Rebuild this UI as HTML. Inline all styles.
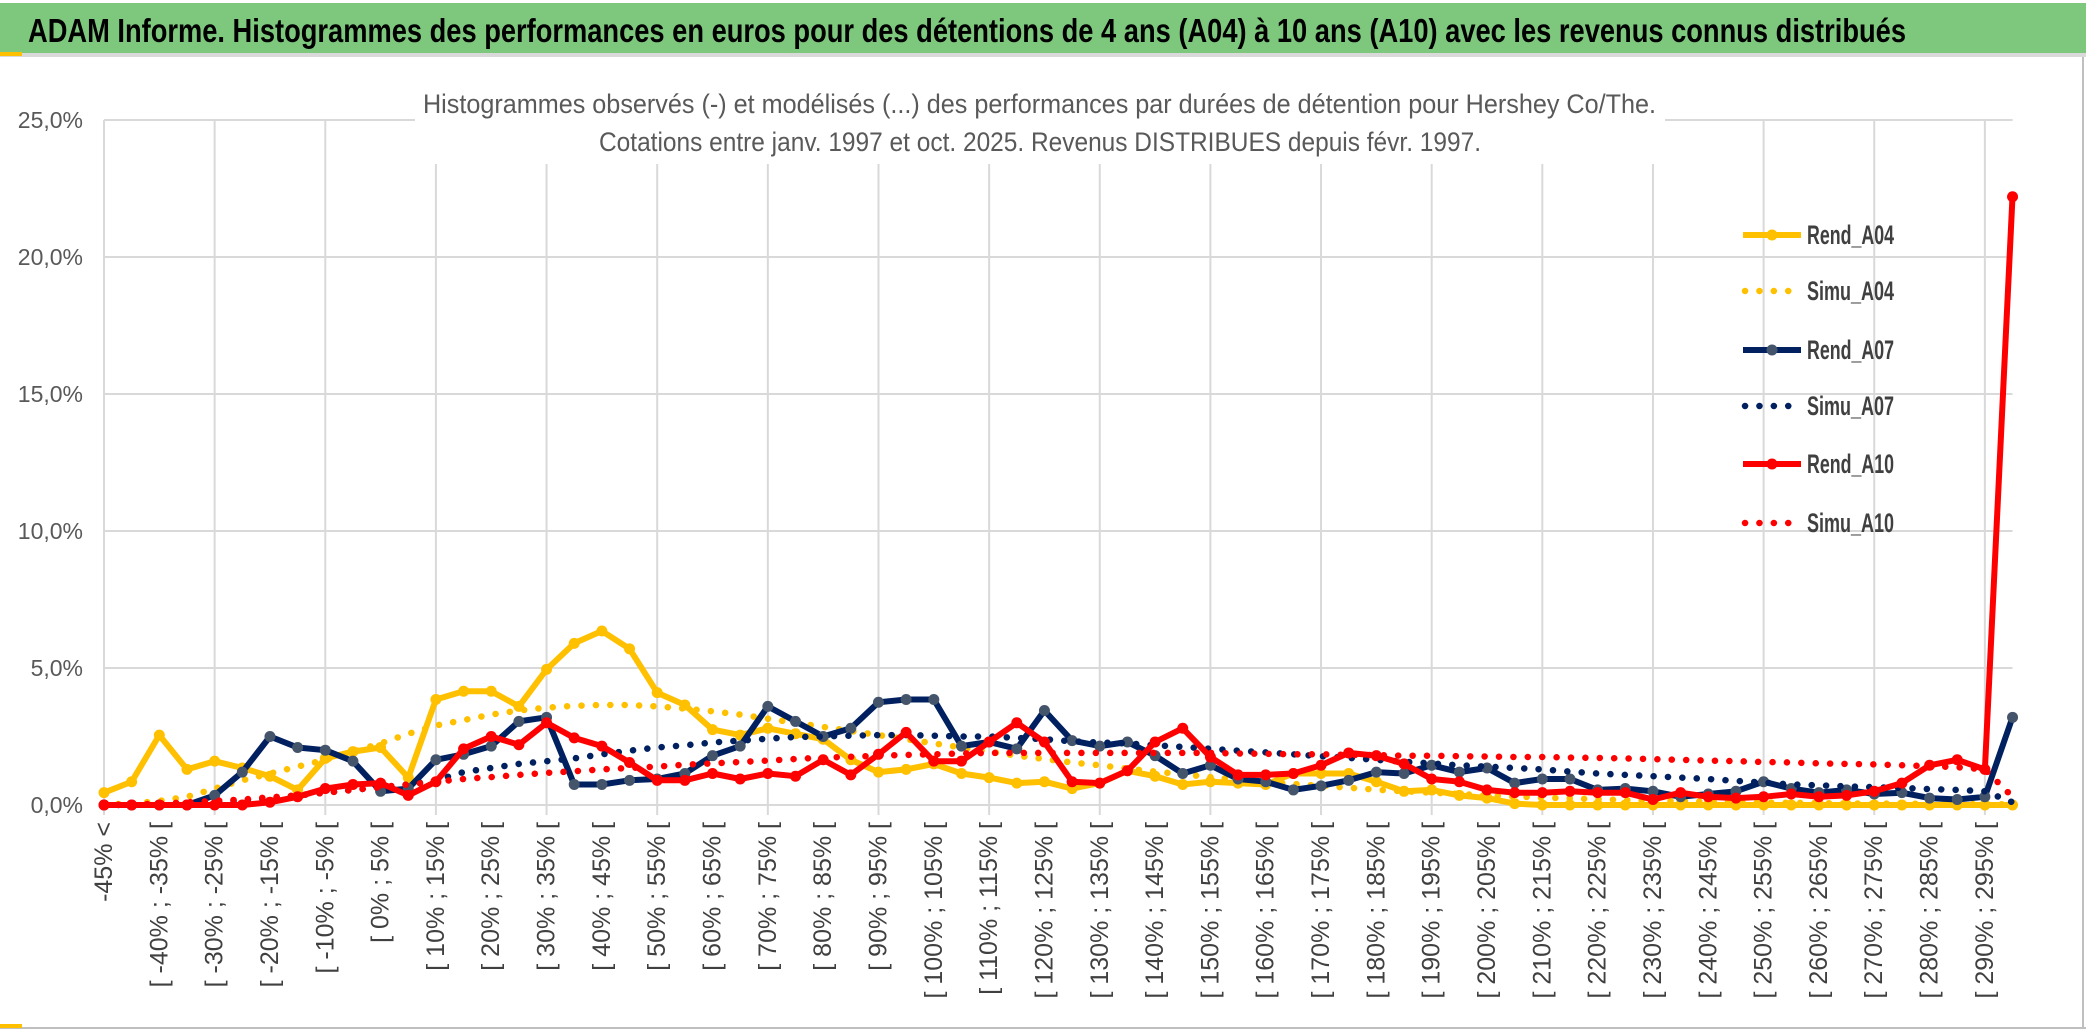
<!DOCTYPE html>
<html><head><meta charset="utf-8"><style>
html,body{margin:0;padding:0;background:#fff;}
svg{display:block;font-family:"Liberation Sans Narrow","Liberation Sans",sans-serif;}
</style></head><body>
<svg id="chart" width="2086" height="1033" viewBox="0 0 2086 1033" xmlns="http://www.w3.org/2000/svg">
<rect x="0" y="0" width="2086" height="1033" fill="#fff"/>
<rect x="0" y="3" width="2086" height="50" fill="#7dc87d"/>
<rect x="0" y="53" width="2086" height="4" fill="#d9d9d9"/>
<rect x="0" y="52" width="22" height="4" fill="#ffc000"/>
<text x="28" y="42" font-size="33" font-weight="bold" fill="#000" textLength="1878" lengthAdjust="spacingAndGlyphs">ADAM Informe. Histogrammes des performances en euros pour des détentions de 4 ans (A04) à 10 ans (A10) avec les revenus connus distribués</text>
<line x1="2083" y1="57" x2="2083" y2="1028" stroke="#bfbfbf" stroke-width="2"/>
<line x1="0" y1="1028" x2="2086" y2="1028" stroke="#bfbfbf" stroke-width="2"/>
<rect x="0" y="1024" width="22" height="4" fill="#ffc000"/>
<g id="grid"></g>
<rect x="415" y="80" width="1250" height="84" fill="#fff"/>
<text x="423" y="113" font-size="27" fill="#595959" textLength="1233" lengthAdjust="spacingAndGlyphs">Histogrammes observés (-) et modélisés (...) des performances  par durées de détention pour Hershey Co/The.</text>
<text x="599" y="151" font-size="27" fill="#595959" textLength="882" lengthAdjust="spacingAndGlyphs">Cotations entre janv. 1997 et oct. 2025. Revenus DISTRIBUES depuis févr. 1997.</text>
<g id="yaxis"></g>
<g id="xaxis"></g>
<g id="series"></g>
<g id="legend"></g>
</svg>
<script>
const yTicks = [0, 5, 10, 15, 20, 25];
const yTickLabels = ["0,0%", "5,0%", "10,0%", "15,0%", "20,0%", "25,0%"];
const categories = (function(){ const c=["-45% <"]; for(let i=1;i<=68;i++){ const a=-50+5*i; c.push("[ "+a+"% ; "+(a+5)+"% ["); } c.push("> 295%"); return c; })();
const rendA04 = [0.45,0.85,2.55,1.3,1.6,1.35,1.05,0.55,1.7,1.95,2.1,1.0,3.85,4.15,4.15,3.6,4.95,5.9,6.35,5.7,4.1,3.65,2.75,2.55,2.8,2.6,2.4,1.65,1.2,1.3,1.5,1.15,1.0,0.8,0.85,0.6,0.8,1.25,1.05,0.75,0.85,0.8,0.75,1.15,1.15,1.15,0.85,0.5,0.55,0.35,0.25,0.05,0,0,0,0,0,0,0,0,0,0,0,0,0,0,0,0,0,0];
const simuA04 = [0.02,0.05,0.15,0.3,0.6,0.9,1.15,1.4,1.65,1.95,2.25,2.6,2.9,3.1,3.3,3.45,3.55,3.62,3.65,3.65,3.6,3.52,3.42,3.3,3.15,3.0,2.85,2.7,2.55,2.4,2.25,2.1,1.95,1.8,1.68,1.55,1.45,1.33,1.22,1.12,1.02,0.93,0.85,0.77,0.7,0.63,0.56,0.5,0.45,0.4,0.35,0.31,0.27,0.24,0.21,0.18,0.16,0.14,0.12,0.1,0.09,0.08,0.07,0.06,0.05,0.05,0.04,0.04,0.03,0.03];
const rendA07 = [0,0,0,0,0.35,1.2,2.5,2.1,2.0,1.6,0.5,0.6,1.65,1.85,2.15,3.05,3.2,0.75,0.75,0.9,0.95,1.15,1.8,2.15,3.6,3.05,2.5,2.8,3.75,3.85,3.85,2.15,2.3,2.05,3.45,2.35,2.15,2.3,1.8,1.15,1.45,0.95,0.85,0.55,0.7,0.9,1.2,1.15,1.45,1.2,1.35,0.8,0.95,0.95,0.55,0.6,0.5,0.3,0.4,0.5,0.85,0.6,0.45,0.55,0.4,0.45,0.25,0.2,0.3,3.2];
const simuA07 = [0,0,0.02,0.05,0.1,0.17,0.25,0.35,0.45,0.55,0.65,0.75,0.9,1.2,1.35,1.5,1.6,1.7,1.85,1.98,2.1,2.18,2.28,2.35,2.42,2.48,2.5,2.53,2.55,2.55,2.53,2.5,2.5,2.45,2.4,2.32,2.28,2.25,2.18,2.12,2.05,1.98,1.92,1.85,1.78,1.72,1.65,1.58,1.52,1.45,1.4,1.35,1.3,1.22,1.15,1.1,1.05,1.0,0.95,0.88,0.82,0.75,0.72,0.68,0.65,0.62,0.58,0.55,0.5,0.1];
const rendA10 = [0,0,0,0,0,0,0.1,0.3,0.6,0.75,0.8,0.35,0.85,2.05,2.5,2.2,3.0,2.45,2.15,1.55,0.9,0.9,1.15,0.95,1.15,1.05,1.65,1.1,1.85,2.65,1.6,1.6,2.3,3.0,2.3,0.85,0.8,1.25,2.3,2.8,1.75,1.1,1.1,1.15,1.45,1.9,1.8,1.5,0.95,0.85,0.55,0.45,0.45,0.5,0.45,0.45,0.2,0.45,0.3,0.25,0.3,0.4,0.3,0.35,0.5,0.8,1.45,1.65,1.3,22.2];
const simuA10 = [0,0.02,0.05,0.1,0.15,0.2,0.28,0.35,0.45,0.55,0.65,0.75,0.85,0.95,1.02,1.1,1.17,1.23,1.3,1.35,1.4,1.47,1.52,1.57,1.62,1.68,1.73,1.76,1.8,1.83,1.85,1.88,1.9,1.9,1.9,1.9,1.9,1.9,1.9,1.9,1.9,1.88,1.87,1.85,1.85,1.83,1.82,1.8,1.8,1.78,1.77,1.75,1.75,1.73,1.72,1.7,1.67,1.65,1.62,1.6,1.57,1.55,1.52,1.5,1.48,1.45,1.42,1.38,1.3,0.3];
const seriesNames = ["Rend_A04","Simu_A04","Rend_A07","Simu_A07","Rend_A10","Simu_A10"];

const NS="http://www.w3.org/2000/svg";
const X0=104, DX=27.66, Y0=805, YTOP=120, YMAX=25;
function xPos(i){ return X0 + i*DX; }
function yPos(v){ return Y0 - (v/YMAX)*(Y0-YTOP); }
function mk(tag, attrs, parent){ const e=document.createElementNS(NS,tag); for(const k in attrs) e.setAttribute(k, attrs[k]); parent.appendChild(e); return e; }

const grid=document.getElementById('grid');
yTicks.forEach(function(t){
  const l=mk('line',{x1:X0,x2:xPos(categories.length-1),y1:yPos(t),y2:yPos(t),stroke:'#d9d9d9','stroke-width':2},grid);
  
  
});
for(let i=0;i<categories.length;i+=4){
  const l=mk('line',{x1:xPos(i),x2:xPos(i),y1:YTOP,y2:Y0+10,stroke:'#d9d9d9','stroke-width':2},grid);
  
  
}
const yaxis=document.getElementById('yaxis');
yTicks.forEach(function(t,k){
  const tx=mk('text',{x:83,y:yPos(t)+8,'text-anchor':'end','font-size':23,fill:'#595959'},yaxis);
  tx.textContent=yTickLabels[k];
  
  
});
const xaxis=document.getElementById('xaxis');
categories.forEach(function(c,i){
  if(i%2!==0) return;
  const x=xPos(i)+8, y=822;
  const tx=mk('text',{x:x,y:y,transform:'rotate(-90 '+x+' '+y+')','text-anchor':'end','font-size':25,fill:'#404040',style:'font-family:"Liberation Sans",sans-serif'},xaxis);
  tx.textContent=c;
  
  
});

const sg=document.getElementById('series');
function pathD(arr){ return arr.map(function(v,i){ return (i?'L':'M')+xPos(i).toFixed(1)+' '+yPos(v).toFixed(1); }).join(' '); }
function solid(arr,color,mcolor,name){
  const g=mk('g',{},sg);
  
  
  const p=mk('path',{d:pathD(arr),fill:'none',stroke:color,'stroke-width':6,'stroke-linejoin':'round'},g);
  
  
  arr.forEach(function(v,i){
    const c=mk('circle',{cx:xPos(i),cy:yPos(v),r:5.5,fill:mcolor},g);
    
    
  });
}
function dotted(arr,color,name){
  const p=mk('path',{d:pathD(arr),fill:'none',stroke:color,'stroke-width':6.5,'stroke-linecap':'round','stroke-dasharray':'0.1 14.3'},sg);
  
  
}
solid(rendA04,'#ffc000','#ffc000','rend-a04');
dotted(simuA04,'#ffc000','simu-a04');
solid(rendA07,'#002060','#44546a','rend-a07');
dotted(simuA07,'#002060','simu-a07');
solid(rendA10,'#ff0000','#ff0000','rend-a10');
dotted(simuA10,'#ff0000','simu-a10');

const lg=document.getElementById('legend');
const legendStyles=[['#ffc000','#ffc000',false],['#ffc000',null,true],['#002060','#44546a',false],['#002060',null,true],['#ff0000','#ff0000',false],['#ff0000',null,true]];
const legendY=[235,291,350,406,464,523];
seriesNames.forEach(function(n,k){
  const y=legendY[k], s=legendStyles[k];
  const g=mk('g',{},lg);
  
  
  if(s[2]){
    mk('line',{x1:1745,x2:1800,y1:y,y2:y,stroke:s[0],'stroke-width':6.5,'stroke-linecap':'round','stroke-dasharray':'0.1 14.3'},g);
  } else {
    mk('line',{x1:1743,x2:1801,y1:y,y2:y,stroke:s[0],'stroke-width':6},g);
    mk('circle',{cx:1772,cy:y,r:5.5,fill:s[1]},g);
  }
  const t=mk('text',{x:1807,y:y+9,'font-size':27,'font-weight':'bold',fill:'#404040',textLength:87,lengthAdjust:'spacingAndGlyphs'},g);
  t.textContent=n;
});
</script>
</body></html>
